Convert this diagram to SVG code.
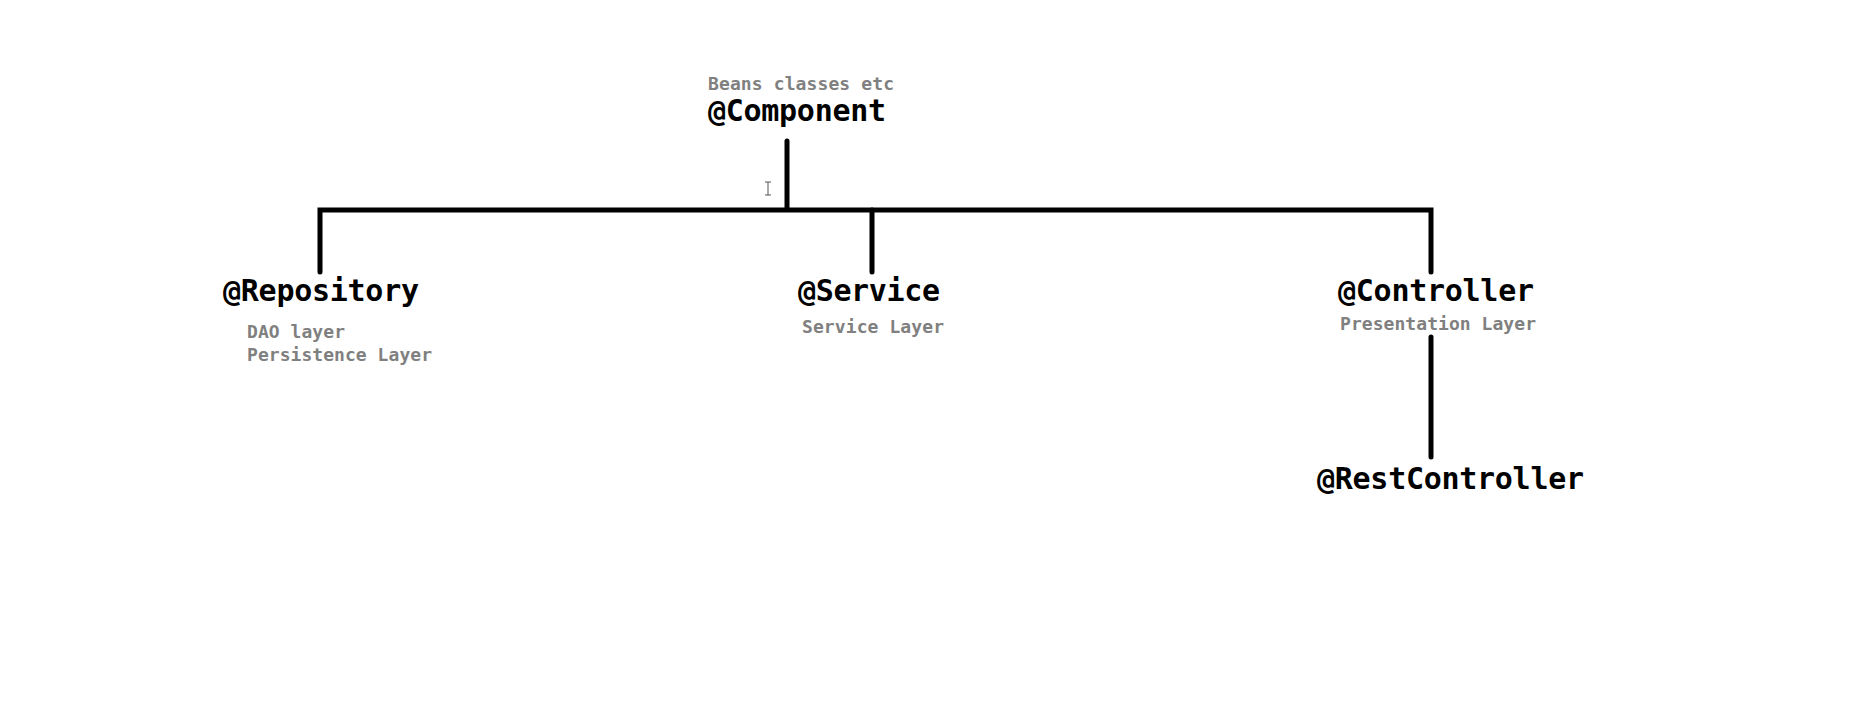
<svg xmlns="http://www.w3.org/2000/svg" width="1857" height="703" viewBox="0 0 1857 703">
<style>
.t{font-family:"DejaVu Sans Mono","Liberation Mono",monospace;font-weight:bold;font-size:30px;fill:#000}
.s{font-family:"DejaVu Sans Mono","Liberation Mono",monospace;font-weight:bold;font-size:18px;fill:#808080}
.c{fill:none;stroke:#000;stroke-width:5;stroke-linecap:round;stroke-linejoin:miter}
</style>
<rect width="1857" height="703" fill="#fff"/>
<g id="connectors">
<path class="c" d="M787 141V209"/>
<path class="c" d="M320 272V210H1431V272"/>
<path class="c" d="M872 210V272"/>
<path class="c" d="M1431 337V457"/>
</g>
<g id="component">
<text class="s" x="708" y="90" textLength="186">Beans classes etc</text>
<text class="t" x="708" y="121" textLength="178">@Component</text>
</g>
<g id="repository">
<text class="t" x="223" y="301" textLength="196">@Repository</text>
<text class="s" x="247" y="338" textLength="98">DAO layer</text>
<text class="s" x="247" y="361" textLength="185">Persistence Layer</text>
</g>
<g id="service">
<text class="t" x="798" y="301" textLength="142">@Service</text>
<text class="s" x="802" y="333" textLength="142">Service Layer</text>
</g>
<g id="controller">
<text class="t" x="1338" y="301" textLength="196">@Controller</text>
<text class="s" x="1340" y="330" textLength="196">Presentation Layer</text>
</g>
<g id="restcontroller">
<text class="t" x="1317" y="489" textLength="267">@RestController</text>
</g>
<path d="M765 182h6M768 182v13M765 195h6" fill="none" stroke="#555" stroke-width="1"/>
</svg>
